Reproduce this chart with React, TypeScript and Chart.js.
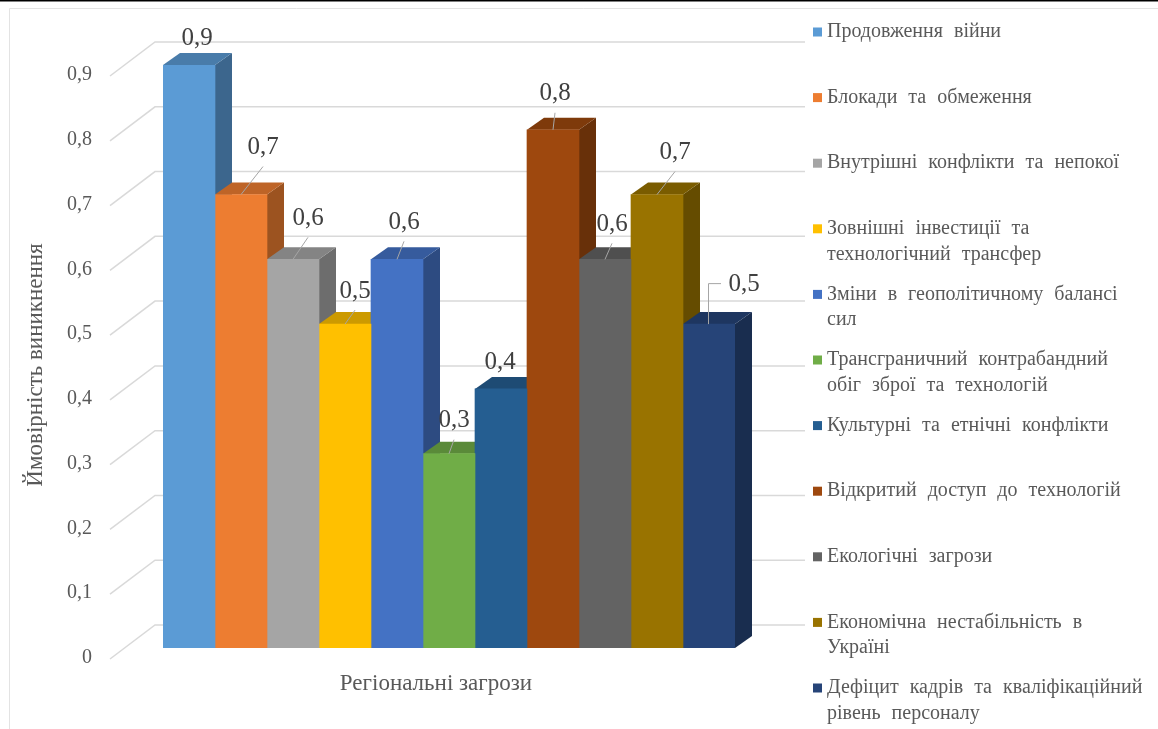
import React, { useEffect, useRef } from "react";
import { Chart, registerables } from "chart.js";

Chart.register(...registerables);

// ---------- data ----------
const CATEGORIES = ["Регіональні загрози"];
const SERIES_NAMES = [
  "Продовження війни",
  "Блокади та обмеження",
  "Внутрішні конфлікти та непокої",
  "Зовнішні інвестиції та\nтехнологічний трансфер",
  "Зміни в геополітичному балансі\nсил",
  "Трансграничний контрабандний\nобіг зброї та технологій",
  "Культурні та етнічні конфлікти",
  "Відкритий доступ до технологій",
  "Екологічні загрози",
  "Економічна нестабільність в\nУкраїні",
  "Дефіцит кадрів та кваліфікаційний\nрівень персоналу",
];
const SERIES_VALUES = [0.9, 0.7, 0.6, 0.5, 0.6, 0.3, 0.4, 0.8, 0.6, 0.7, 0.5];
const SERIES_COLORS = [
  "#5B9BD5", "#ED7D31", "#A5A5A5", "#FFC000", "#4472C4", "#70AD47",
  "#255E91", "#9E480E", "#636363", "#997300", "#264478",
];
const Y_MIN = 0;
const Y_MAX = 0.9;
const Y_STEP = 0.1;
const Y_TITLE = "Ймовірність виникнення";

// ---------- styling ----------
const SERIF = "'Liberation Serif', 'Times New Roman', serif";
const TEXT_GRAY = "#595959";
const GRID = "#d9d9d9";
const DEPTH_X = 17;
const DEPTH_Y = 12;
// label placement relative to bar top-front centre: [dx, dy, leader]
const LABEL_LAYOUT: [number, number, string][] = [
  [8, -27, "none"],
  [22, -47, "line"],
  [15, -41, "line"],
  [10, -33, "line"],
  [7, -37, "line"],
  [5, -33, "line"],
  [-1, -26, "none"],
  [2, -36, "line"],
  [7, -35, "line"],
  [18, -42, "line"],
  [35, -40, "elbow"],
];

const fmt = (v: number) => (v === 0 ? "0" : String(+v.toFixed(2)).replace(".", ","));

function shade(hex: string, f: number) {
  const n = parseInt(hex.slice(1), 16);
  const r = Math.round(((n >> 16) & 255) * f);
  const g = Math.round(((n >> 8) & 255) * f);
  const b = Math.round((n & 255) * f);
  return `rgb(${r},${g},${b})`;
}

const excel3d = {
  id: "excel3d",
  beforeDraw(chart: any) {
    const { ctx, width, height } = chart;
    ctx.save();
    ctx.fillStyle = "#ffffff";
    ctx.fillRect(0, 0, width, height);
    ctx.fillStyle = "#000000";
    ctx.fillRect(0, 0, width, 1.5);
    ctx.strokeStyle = "#e3e3e3";
    ctx.lineWidth = 1;
    ctx.beginPath();
    ctx.moveTo(9.5, height);
    ctx.lineTo(9.5, 8.5);
    ctx.lineTo(width, 8.5);
    ctx.stroke();
    ctx.restore();
  },
  beforeDatasetsDraw(chart: any) {
    const { ctx, chartArea: ca, scales } = chart;
    const y = scales.y;
    const x = scales.x;
    ctx.save();
    // walls / grid
    ctx.strokeStyle = GRID;
    ctx.lineWidth = 1.5;
    ctx.font = `20px ${SERIF}`;
    ctx.fillStyle = TEXT_GRAY;
    ctx.textAlign = "right";
    ctx.textBaseline = "middle";
    for (const t of y.ticks) {
      const yf = y.getPixelForValue(t.value);
      ctx.beginPath();
      ctx.moveTo(ca.left - 53, yf + 11);
      ctx.lineTo(ca.left - 8, yf - 23);
      ctx.lineTo(ca.right + 70, yf - 23);
      ctx.stroke();
      ctx.fillText(fmt(t.value), ca.left - 71, yf + 10);
    }
    // axis title
    ctx.save();
    ctx.translate(36, 365);
    ctx.rotate(-Math.PI / 2);
    ctx.textAlign = "center";
    ctx.font = `23px ${SERIF}`;
    ctx.fillText(Y_TITLE, 0, 0);
    ctx.restore();
    // category label
    ctx.textAlign = "center";
    ctx.font = `23px ${SERIF}`;
    const labels = chart.data.labels;
    labels.forEach((lab: string, i: number) => {
      ctx.fillText(lab, x.getPixelForValue(i) - 13, y.getPixelForValue(Y_MIN) + 36);
    });
    // side faces then top faces
    const bars: any[] = [];
    chart.data.datasets.forEach((ds: any, i: number) => {
      const meta = chart.getDatasetMeta(i);
      meta.data.forEach((el: any) => {
        const p = el.getProps(["x", "y", "base", "width"], true);
        bars.push({ ...p, color: ds.backgroundColor });
      });
    });
    for (const b of bars) {
      const r = b.x + b.width / 2;
      ctx.fillStyle = shade(b.color, 0.66);
      ctx.beginPath();
      ctx.moveTo(r, b.y);
      ctx.lineTo(r + DEPTH_X, b.y - DEPTH_Y);
      ctx.lineTo(r + DEPTH_X, b.base - DEPTH_Y);
      ctx.lineTo(r, b.base);
      ctx.closePath();
      ctx.fill();
    }
    for (const b of bars) {
      const l = b.x - b.width / 2;
      const r = b.x + b.width / 2;
      ctx.fillStyle = shade(b.color, 0.8);
      ctx.beginPath();
      ctx.moveTo(l, b.y);
      ctx.lineTo(l + DEPTH_X, b.y - DEPTH_Y);
      ctx.lineTo(r + DEPTH_X, b.y - DEPTH_Y);
      ctx.lineTo(r, b.y);
      ctx.closePath();
      ctx.fill();
    }
    ctx.restore();
  },
  afterDatasetsDraw(chart: any) {
    const { ctx } = chart;
    ctx.save();
    // data labels
    chart.data.datasets.forEach((ds: any, i: number) => {
      const el = chart.getDatasetMeta(i).data[0];
      const p = el.getProps(["x", "y"], true);
      const [dx, dy, kind] = LABEL_LAYOUT[i] || [0, -30, "none"];
      const lx = p.x + dx;
      const ly = p.y + dy;
      ctx.strokeStyle = "#a6a6a6";
      ctx.lineWidth = 1;
      if (kind === "line") {
        ctx.beginPath();
        ctx.moveTo(p.x, p.y);
        ctx.lineTo(lx, ly + 19);
        ctx.stroke();
      } else if (kind === "elbow") {
        ctx.beginPath();
        ctx.moveTo(p.x - 0.5, p.y);
        ctx.lineTo(p.x - 0.5, ly - 0.5);
        ctx.lineTo(lx - 23, ly - 0.5);
        ctx.stroke();
      }
      ctx.fillStyle = "#404040";
      ctx.font = `25px ${SERIF}`;
      ctx.textAlign = "center";
      ctx.textBaseline = "middle";
      ctx.fillText(fmt(ds.data[0]), lx, ly);
    });
    // legend
    ctx.font = `20px ${SERIF}`;
    (ctx as any).wordSpacing = "6px";
    ctx.textAlign = "left";
    ctx.textBaseline = "middle";
    chart.data.datasets.forEach((ds: any, i: number) => {
      const y0 = 32 + 65.6 * i;
      ctx.fillStyle = ds.backgroundColor;
      ctx.fillRect(813, y0 - 4.5, 9, 9);
      ctx.fillStyle = TEXT_GRAY;
      String(ds.label)
        .split("\n")
        .forEach((line, k) => ctx.fillText(line, 827, y0 + k * 25.5));
    });
    ctx.restore();
  },
};

export default function App() {
  const ref = useRef<HTMLCanvasElement | null>(null);
  useEffect(() => {
    if (!ref.current) return;
    const chart = new Chart(ref.current, {
      type: "bar",
      data: {
        labels: CATEGORIES,
        datasets: SERIES_NAMES.map((name, i) => ({
          label: name,
          data: [SERIES_VALUES[i]],
          backgroundColor: SERIES_COLORS[i],
          borderWidth: 0,
          barPercentage: 1,
          categoryPercentage: 1,
        })),
      },
      options: {
        responsive: false,
        maintainAspectRatio: false,
        animation: false,
        devicePixelRatio: 1,
        layout: { padding: { left: 163, right: 423, top: 65, bottom: 81 } },
        scales: {
          x: { display: false },
          y: { display: false, min: Y_MIN, max: Y_MAX, ticks: { stepSize: Y_STEP } },
        },
        plugins: { legend: { display: false }, tooltip: { enabled: false } },
      },
      plugins: [excel3d],
    });
    return () => chart.destroy();
  }, []);
  return (
    <div style={{ position: "fixed", left: 0, top: 0, width: 1158, height: 729, background: "#fff" }}>
      <canvas ref={ref} width={1158} height={729} style={{ display: "block" }} />
    </div>
  );
}
